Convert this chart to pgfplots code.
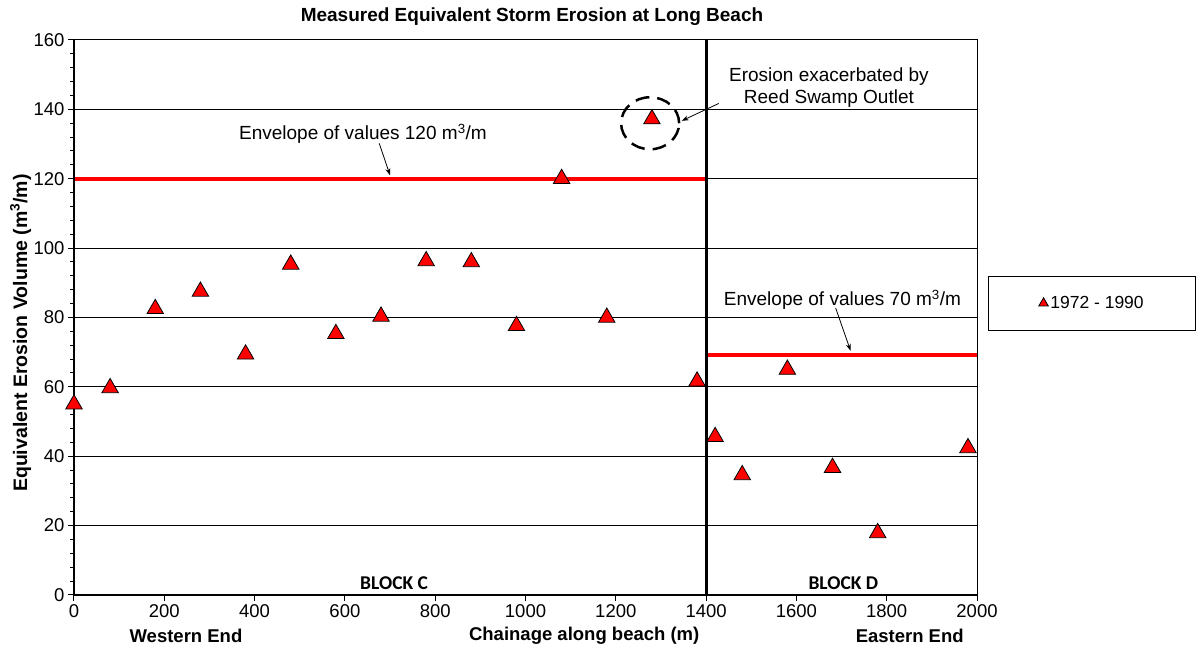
\documentclass[border=0pt]{standalone}
\usepackage{pgfplots}
\pgfplotsset{compat=1.18}
\usepackage{fontspec}
\setmainfont{Liberation Sans}
\newfontfamily\calibri{Carlito}
\usetikzlibrary{arrows.meta}
\begin{document}
\begin{tikzpicture}
\useasboundingbox (0,0) rectangle (1204pt,666pt);
\node[font=\fontsize{19}{22}\selectfont\bfseries] at (532pt,649pt) {Measured Equivalent Storm Erosion at Long Beach};
\begin{axis}[
  at={(74pt,71pt)}, anchor=south west,
  scale only axis, width=903pt, height=555pt,
  xmin=0, xmax=2000, ymin=0, ymax=160,
  xtick={0,200,...,2000}, ytick={0,20,...,160},
  minor y tick num=4,
  ymajorgrids, major grid style={black, line width=1pt},
  tick align=outside, xtick pos=bottom, ytick pos=left,
  major tick length=6pt, minor tick length=4pt,
  every tick/.style={black, line width=1pt},
  axis line style={black, line width=1pt},
  ticklabel style={font=\fontsize{18.5}{20}\selectfont},
  /pgf/number format/assume math mode=true,
  /pgf/number format/1000 sep={},
  xlabel={Chainage along beach (m)},
  ylabel={Equivalent Erosion Volume (m\textsuperscript{3}/m)},
  every axis x label/.style={at={(axis description cs:0.565,-0.074)}, anchor=center, font=\fontsize{18.5}{22}\selectfont\bfseries},
  every axis y label/.style={at={(axis description cs:-0.059,0.472)}, anchor=center, rotate=90, font=\fontsize{19.5}{22}\selectfont\bfseries},
  legend style={at={(axis description cs:1.0125,0.575)}, anchor=north west, draw=black, line width=1pt,
    inner xsep=50pt, inner ysep=18pt, font=\fontsize{17.5}{20}\selectfont},
  legend image code/.code={\draw[#1, mark size=5.5pt] plot coordinates {(0pt,0pt)};},
  clip=false,
]
\addplot[red, line width=4pt, forget plot] coordinates {(0,120) (1400,120)};
\addplot[red, line width=4pt, forget plot] coordinates {(1400,69.3) (2000,69.3)};
\addplot[black, line width=2.8pt, forget plot] coordinates {(1400,0) (1400,160)};
\addplot[only marks, mark=triangle*, mark size=9.5pt, mark options={fill=red, draw=black, line width=0.8pt}] coordinates {
(0,55) (80,59.7) (180,82.5) (280,87.5) (380,69.4) (480,95.3) (580,75.3) (680,80.3)
(780,96.3) (880,96) (980,77.6) (1080,120) (1180,80) (1280,137.2) (1380,61.6)
(1420,45.6) (1480,34.6) (1580,65) (1680,36.7) (1780,17.9) (1980,42.4)
};
\addlegendentry{1972 - 1990}
\draw[line width=2pt] (rel axis cs:0,1) -- (rel axis cs:0,0) -- (rel axis cs:1,0);
\draw[black, line width=2.5pt, dash pattern=on 14pt off 8pt] (axis cs:1276,136) ellipse [x radius=29pt, y radius=26pt];
\node[font=\fontsize{19}{22}\selectfont, align=center] at (axis cs:1672,146.3) {Erosion exacerbated by\\Reed Swamp Outlet};
\draw[-{Stealth[length=7pt,width=5pt]}, line width=0.8pt] (axis cs:1428,141.7) -- (axis cs:1346,136.7);
\node[font=\fontsize{19}{22}\selectfont] at (axis cs:640,133) {Envelope of values 120 m\textsuperscript{3}/m};
\draw[-{Stealth[length=7pt,width=5pt]}, line width=0.8pt] (axis cs:676,130.2) -- (axis cs:700,121);
\node[font=\fontsize{19}{22}\selectfont] at (axis cs:1702,85.1) {Envelope of values 70 m\textsuperscript{3}/m};
\draw[-{Stealth[length=7pt,width=5pt]}, line width=0.8pt] (axis cs:1687,82.7) -- (axis cs:1720,70.4);
\node[font=\fontsize{19.5}{22}\selectfont\calibri\bfseries] at (axis cs:709,3.4) {BLOCK C};
\node[font=\fontsize{19.5}{22}\selectfont\calibri\bfseries] at (axis cs:1704,3.4) {BLOCK D};
\node[font=\fontsize{18.5}{22}\selectfont\bfseries] at (axis cs:248,-11.8) {Western End};
\node[font=\fontsize{18.5}{22}\selectfont\bfseries] at (axis cs:1851,-11.8) {Eastern End};
\end{axis}
\end{tikzpicture}
\end{document}
